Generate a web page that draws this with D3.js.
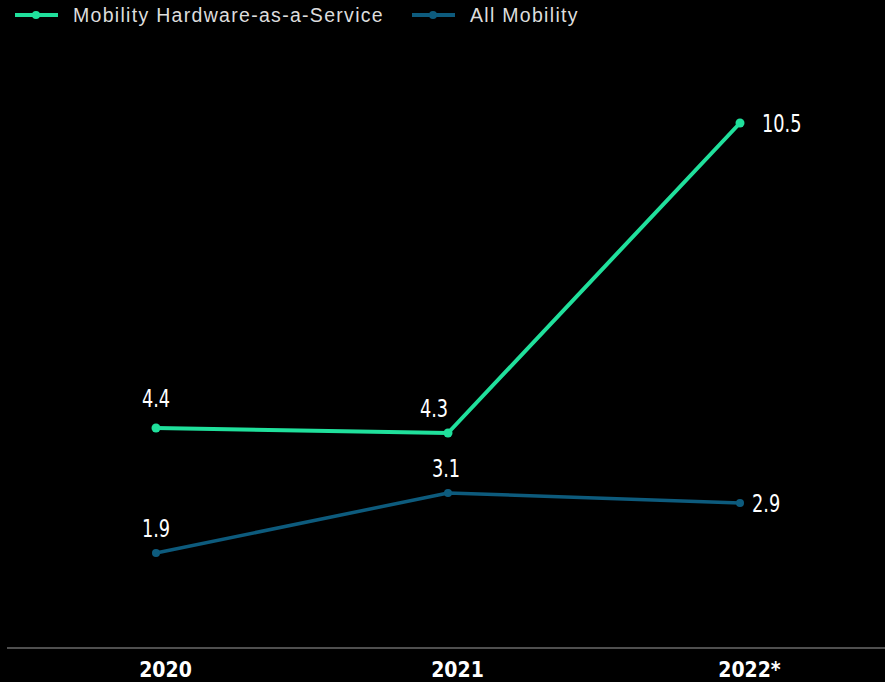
<!DOCTYPE html>
<html>
<head>
<meta charset="utf-8">
<script src="https://cdn.jsdelivr.net/npm/d3@7"></script>
<style>
  html, body { margin: 0; padding: 0; background: #000; }
  svg { display: block; }
</style>
</head>
<body>
<svg id="chart" width="885" height="682"></svg>
<script>
// Years on the x axis
const years = ["2020", "2021", "2022*"];
// Series values
const hardwareService = [4.4, 4.3, 10.5];
const allMobility = [1.9, 3.1, 2.9];
// Series names
const seriesNames = ["Mobility Hardware-as-a-Service", "All Mobility"];

const W = 885, H = 682;
const svg = d3.select("#chart");

const x = d3.scalePoint().domain(years).range([156, 740]);
const y = d3.scaleLinear().domain([0, 10.5]).range([648, 123]);

const green = "#20e09c";
const blue = "#0d5b7d";
const numFont = "'DejaVu Sans', sans-serif";

// Baseline
svg.append("line")
  .attr("x1", 7).attr("x2", W)
  .attr("y1", y(0)).attr("y2", y(0))
  .attr("stroke", "#6a6a6a").attr("stroke-width", 1.5);

// X axis labels (slightly condensed bold)
const xAxis = d3.axisBottom(x).tickSize(0).tickPadding(0);
const gx = svg.append("g").attr("transform", `translate(9,${y(0) + 14})`).call(xAxis);
gx.select(".domain").remove();
gx.selectAll(".tick text")
  .attr("fill", "#ffffff")
  .attr("font-family", numFont)
  .attr("font-weight", "bold")
  .attr("font-size", 21)
  .attr("dy", "0.71em")
  .attr("transform", "scale(0.9,1)");

const line = d3.line().x((d, i) => x(years[i])).y(d => y(d));

function drawSeries(vals, color, width, r) {
  svg.append("path")
    .datum(vals)
    .attr("d", line)
    .attr("fill", "none")
    .attr("stroke", color)
    .attr("stroke-width", width)
    .attr("stroke-linejoin", "round");
  svg.selectAll(null)
    .data(vals)
    .enter().append("circle")
    .attr("cx", (d, i) => x(years[i]))
    .attr("cy", d => y(d))
    .attr("r", r)
    .attr("fill", color);
}

drawSeries(allMobility, blue, 3.5, 4);
drawSeries(hardwareService, green, 4, 4.5);

// Value labels: [dx, dy, anchor] relative to each point
const hwLabelPos = [[0, -21, "middle"], [-14, -16, "middle"], [22, 0, "start"]];
const amLabelPos = [[0, -16, "middle"], [-2, -16, "middle"], [12, 0, "start"]];

function drawLabels(vals, pos) {
  svg.selectAll(null)
    .data(vals)
    .enter().append("text")
    .attr("transform", (d, i) =>
      `translate(${x(years[i]) + pos[i][0]},${y(d) + pos[i][1]}) scale(0.74,1)`)
    .attr("dy", (d, i) => pos[i][2] === "start" ? "0.36em" : "0")
    .attr("text-anchor", (d, i) => pos[i][2])
    .attr("fill", "#ffffff")
    .attr("font-family", numFont)
    .attr("font-size", 24)
    .text(d => d.toFixed(1));
}
drawLabels(hardwareService, hwLabelPos);
drawLabels(allMobility, amLabelPos);

// Legend
const legend = [
  { name: seriesNames[0], color: green, x: 15 },
  { name: seriesNames[1], color: blue, x: 412 }
];
const lg = svg.selectAll("g.legend").data(legend).enter().append("g")
  .attr("class", "legend")
  .attr("transform", d => `translate(${d.x},15)`);
lg.append("line")
  .attr("x1", 0).attr("x2", 43).attr("y1", 0).attr("y2", 0)
  .attr("stroke", d => d.color).attr("stroke-width", 4);
lg.append("circle")
  .attr("cx", 21).attr("cy", 0).attr("r", 4)
  .attr("fill", d => d.color);
lg.append("text")
  .attr("x", 58).attr("y", 0).attr("dy", "0.35em")
  .attr("fill", "#dddddd")
  .attr("font-family", "'Liberation Sans', 'Roboto', sans-serif")
  .attr("font-size", 19.5)
  .attr("letter-spacing", 1.3)
  .text(d => d.name);
</script>
</body>
</html>
